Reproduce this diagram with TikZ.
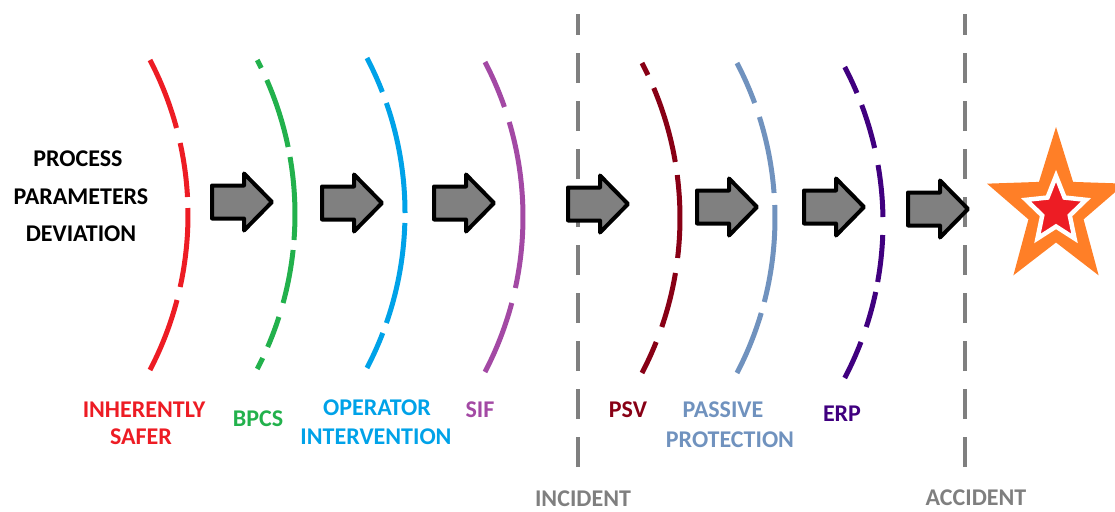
\documentclass[tikz,border=0pt]{standalone}
\usepackage{fontspec}
\setmainfont{Carlito}
\definecolor{cred}{HTML}{ED1C24}
\definecolor{cgreen}{HTML}{22B14C}
\definecolor{cblue}{HTML}{00A2E8}
\definecolor{cpurple}{HTML}{A349A4}
\definecolor{cmaroon}{HTML}{880015}
\definecolor{clblue}{HTML}{7092BE}
\definecolor{cindigo}{HTML}{40007F}
\definecolor{corange}{HTML}{FF7F27}
\definecolor{cgray}{HTML}{7F7F7F}
\definecolor{cfill}{HTML}{808080}
\newcommand\guardarc[4]{%
  \foreach \a/\b in {#4}
    \draw[guard,#1] (#2,#3) ++({asin((\a-#3)/335)}:335)
      arc[start angle={asin((\a-#3)/335)}, end angle={asin((\b-#3)/335)}, radius=335];}
\newcommand\blockarrow[3]{%
  \coordinate (#1) at (#2,#3);
  \draw[barrow] (#1) ++(0,-16.5) -- ++(32,0) -- ++(0,-12) -- ++(28,28.5) -- ++(-28,28.5) -- ++(0,-12) -- ++(-32,0) -- cycle;}
\begin{document}
\begin{tikzpicture}[x=1pt,y=-1pt,
  lbl/.style={font=\fontsize{24}{28}\selectfont\bfseries, inner sep=0pt, text height=15.5pt, text depth=0pt, anchor=center},
  guard/.style={line width=5pt, line cap=butt},
  barrow/.style={fill=cfill, draw=black, line width=4pt, line join=round},
  vline/.style={draw=cgray, line width=3.5pt, dash pattern=on 30pt off 18pt}]
\useasboundingbox (0,0) rectangle (1115,511);
\clip (0,0) rectangle (1115,511);
% left text
\node[lbl] (proc1) at (78,159) {PROCESS};
\node[lbl] (proc2) at (81,197) {PARAMETERS};
\node[lbl] (proc3) at (81,234) {DEVIATION};
% arcs
\guardarc{cred}{-147}{215}{60/128, 143/197, 208/287, 300/370}
\guardarc{cgreen}{-40}{214.5}{60/68, 80/147, 157/240, 250/303, 317/347, 358/369}
\guardarc{cblue}{70}{213}{58/92, 103/213, 223/323, 333/368}
\guardarc{cpurple}{188}{217}{62/107, 122/288, 303/372}
\guardarc{cmaroon}{345}{218}{63/75, 88/162, 175/258, 273/327, 342/373}
\guardarc{clblue}{440}{218}{63/103, 117/193, 205/302, 313/373}
\guardarc{cindigo}{548}{222.5}{67/93, 105/148, 165/217, 235/282, 292/327, 342/378}
% vertical dashed lines
\coordinate (incB) at (578,467); \coordinate (incT) at (578,14);
\coordinate (accB) at (965,467); \coordinate (accT) at (965,14);
\draw[vline] (incB) -- (incT);
\draw[vline] (accB) -- (accT);
% block arrows
\blockarrow{a1}{212}{202}
\blockarrow{a2}{322}{203}
\blockarrow{a3}{434}{203}
\blockarrow{a4}{568}{204}
\blockarrow{a5}{697}{207}
\blockarrow{a6}{804}{207}
\blockarrow{a7}{908}{209}
% star
\fill[corange] plot[samples at={0,...,9}]
  ({1056+((mod(\x,2)==0) ? 72.5 : 29)*cos(-90+36*\x)}, {209+((mod(\x,2)==0) ? 82 : 33.5)*sin(-90+36*\x)}) -- cycle;
\filldraw[fill=cred, draw=white, line width=4.5pt, line join=miter] plot[samples at={0,...,9}]
  ({1056+((mod(\x,2)==0) ? 31.5 : 14.5)*cos(-90+36*\x)}, {210.5+((mod(\x,2)==0) ? 34.5 : 16)*sin(-90+36*\x)}) -- cycle;
% labels
\node[lbl, text=cred] (inh1) at (144,410) {INHERENTLY};
\node[lbl, text=cred] (inh2) at (141,437) {SAFER};
\node[lbl, text=cgreen] (bpcs) at (258,419) {BPCS};
\node[lbl, text=cblue] (op1) at (377,408) {OPERATOR};
\node[lbl, text=cblue] (op2) at (376,437) {INTERVENTION};
\node[lbl, text=cpurple] (sif) at (480,410) {SIF};
\node[lbl, text=cmaroon] (psv) at (628,410) {PSV};
\node[lbl, text=clblue] (pas1) at (723,410) {PASSIVE};
\node[lbl, text=clblue] (pas2) at (730,440) {PROTECTION};
\node[lbl, text=cindigo] (erp) at (842,414) {ERP};
\node[lbl, text=cgray] (inc) at (583,499) {INCIDENT};
\node[lbl, text=cgray] (acc) at (976,498) {ACCIDENT};
\end{tikzpicture}
\end{document}
